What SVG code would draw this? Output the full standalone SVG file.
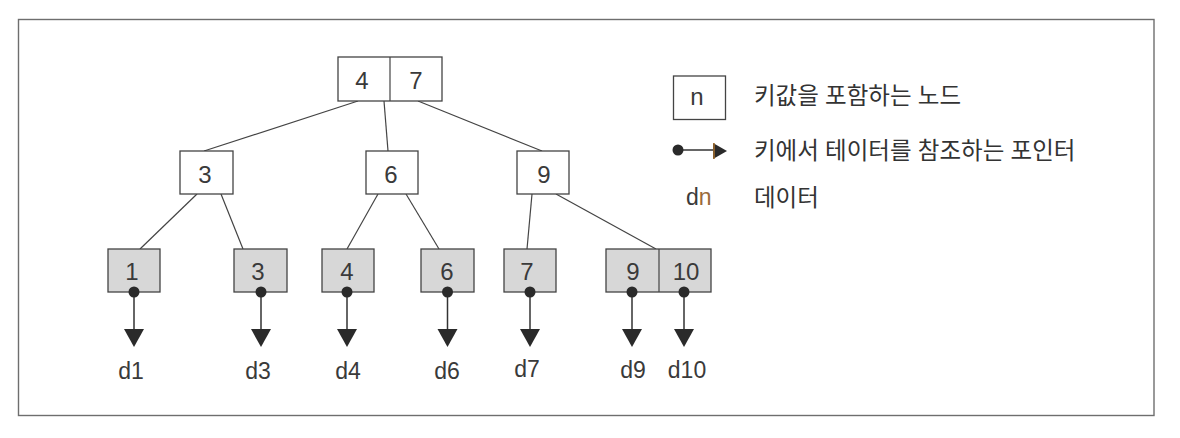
<svg xmlns="http://www.w3.org/2000/svg" width="1180" height="438" viewBox="0 0 1180 438">
<defs>
<style>
.frame{fill:#fff;stroke:#6e6e6e;stroke-width:1.4}
.key{fill:#fff;stroke:#444;stroke-width:1.3}
.leaf{fill:#d7d7d7;stroke:#444;stroke-width:1.3}
.edge{stroke:#444;stroke-width:1.2;fill:none}
.ptr{stroke:#333;stroke-width:1.5;fill:none}
.dot{fill:#2a2a2a}
.tri{fill:#2a2a2a}
.num{font-family:"Liberation Sans",Arial,sans-serif;font-size:24px;fill:#3a3a3a;text-anchor:middle}
.dl{font-family:"Liberation Sans",Arial,sans-serif;font-size:23px;fill:#3a3a3a;text-anchor:middle}
.ko{font-family:"Noto Sans CJK KR","Noto Sans CJK SC",sans-serif;font-size:23.5px;fill:#333;word-spacing:1px}
</style>
</defs>
<rect class="frame" x="18.5" y="19.5" width="1135.5" height="396"/>

<g id="connectors">
<line class="edge" x1="358" y1="101" x2="204" y2="151"/>
<line class="edge" x1="384" y1="101" x2="388" y2="151"/>
<line class="edge" x1="418" y1="101" x2="542" y2="151"/>
<line class="edge" x1="197" y1="194" x2="140" y2="249"/>
<line class="edge" x1="221" y1="194" x2="243" y2="249"/>
<line class="edge" x1="378" y1="194" x2="347" y2="249"/>
<line class="edge" x1="406" y1="194" x2="439" y2="249"/>
<line class="edge" x1="532" y1="194" x2="527" y2="249"/>
<line class="edge" x1="556" y1="194" x2="656" y2="249"/>
</g>

<g id="root">
<rect class="key" x="338" y="57" width="104" height="44"/>
<line class="edge" x1="390" y1="57" x2="390" y2="101"/>
<text class="num" x="362" y="89">4</text>
<text class="num" x="416" y="89">7</text>
</g>
<g id="n3">
<rect class="key" x="180" y="151" width="53" height="43"/>
<text class="num" x="205" y="183">3</text>
</g>
<g id="n6">
<rect class="key" x="366" y="151" width="52" height="43"/>
<text class="num" x="391" y="183">6</text>
</g>
<g id="n9">
<rect class="key" x="517" y="151" width="52" height="43"/>
<text class="num" x="544" y="183">9</text>
</g>

<g id="leaf1">
<rect class="leaf" x="108" y="249" width="52" height="43"/>
<text class="num" x="132" y="280">1</text>
<line class="ptr" x1="134" y1="292" x2="134" y2="330"/>
<circle class="dot" cx="134" cy="292" r="5.5"/>
<polygon class="tri" points="124,329 144,329 134,347"/>
<text class="dl" x="131" y="379">d1</text>
</g>
<g id="leaf3">
<rect class="leaf" x="234" y="249" width="53" height="43"/>
<text class="num" x="258" y="280">3</text>
<line class="ptr" x1="261" y1="292" x2="261" y2="330"/>
<circle class="dot" cx="261" cy="292" r="5.5"/>
<polygon class="tri" points="251,329 271,329 261,347"/>
<text class="dl" x="258" y="379">d3</text>
</g>
<g id="leaf4">
<rect class="leaf" x="322" y="249" width="52" height="43"/>
<text class="num" x="347" y="280">4</text>
<line class="ptr" x1="347" y1="292" x2="347" y2="330"/>
<circle class="dot" cx="347" cy="292" r="5.5"/>
<polygon class="tri" points="337,329 357,329 347,347"/>
<text class="dl" x="348" y="379">d4</text>
</g>
<g id="leaf6">
<rect class="leaf" x="421" y="249" width="53" height="43"/>
<text class="num" x="447" y="280">6</text>
<line class="ptr" x1="447.5" y1="292" x2="447.5" y2="330"/>
<circle class="dot" cx="447.5" cy="292" r="5.5"/>
<polygon class="tri" points="437.5,329 457.5,329 447.5,347"/>
<text class="dl" x="447" y="379">d6</text>
</g>
<g id="leaf7">
<rect class="leaf" x="504" y="249" width="52" height="43"/>
<text class="num" x="527" y="280">7</text>
<line class="ptr" x1="530" y1="292" x2="530" y2="330"/>
<circle class="dot" cx="530" cy="292" r="5.5"/>
<polygon class="tri" points="520,329 540,329 530,347"/>
<text class="dl" x="527" y="377">d7</text>
</g>
<g id="leaf9-10">
<rect class="leaf" x="606" y="249" width="105" height="43"/>
<line class="edge" x1="659" y1="249" x2="659" y2="292"/>
<text class="num" x="633" y="280">9</text>
<text class="num" x="686" y="280">10</text>
<line class="ptr" x1="632" y1="292" x2="632" y2="330"/>
<circle class="dot" cx="632" cy="292" r="5.5"/>
<polygon class="tri" points="622,329 642,329 632,347"/>
<line class="ptr" x1="684" y1="292" x2="684" y2="330"/>
<circle class="dot" cx="684" cy="292" r="5.5"/>
<polygon class="tri" points="674,329 694,329 684,347"/>
<text class="dl" x="633" y="378">d9</text>
<text class="dl" x="687" y="378">d10</text>
</g>

<g id="legend">
<rect class="key" x="673.5" y="76" width="52" height="43.5"/>
<text class="num" x="697" y="105">n</text>
<text class="ko" x="754" y="103.5">키값을 포함하는 노드</text>
<line class="ptr" x1="678" y1="150" x2="714" y2="150"/>
<circle class="dot" cx="678" cy="150" r="5.5"/>
<polygon class="tri" points="713,143 713,159 727,151"/>
<line x1="714" y1="143" x2="714" y2="159" stroke="#a8702e" stroke-width="1.5"/>
<text class="ko" x="754" y="158.5">키에서 테이터를 참조하는 포인터</text>
<text class="dl" x="686" y="205" style="text-anchor:start">d<tspan fill="#9a6a3a">n</tspan></text>
<text class="ko" x="754" y="205.5">데이터</text>
</g>
</svg>
